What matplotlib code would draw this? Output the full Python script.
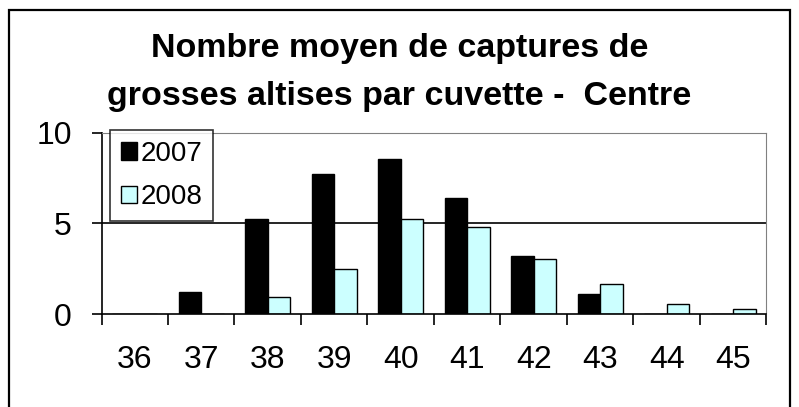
import matplotlib
matplotlib.use("Agg")
import matplotlib.pyplot as plt
import numpy as np
from matplotlib.patches import Rectangle

categories = ["36", "37", "38", "39", "40", "41", "42", "43", "44", "45"]
series_2007 = [0, 1.2, 5.25, 7.7, 8.55, 6.4, 3.2, 1.1, 0, 0]
series_2008 = [0, 0, 0.95, 2.5, 5.25, 4.8, 3.05, 1.65, 0.55, 0.3]
yticks = [0, 5, 10]

plt.rcParams['font.family'] = ['Liberation Sans', 'DejaVu Sans']

W, H = 799, 407
fig = plt.figure(figsize=(W / 100, H / 100), dpi=100)
ax = fig.add_axes([101.5 / W, 1 - 314 / H, (766.5 - 101.5) / W, (314 - 132.7) / H])

x = np.arange(len(categories))
bw = 0.34
ax.bar(x - bw / 2, series_2007, bw, color="black", edgecolor="black", linewidth=1, label="2007", zorder=3)
ax.bar(x + bw / 2, series_2008, bw, color="#CCFFFF", edgecolor="black", linewidth=1, label="2008", zorder=3)

ax.set_xlim(-0.5, len(categories) - 0.5)
ax.set_ylim(0, 10)
ax.set_yticks(yticks)
ax.set_yticklabels([str(v) for v in yticks], fontsize=23)
ax.set_xticks(np.arange(len(categories) + 1) - 0.5)
ax.set_xticklabels([])
ax.set_xticks(x, minor=True)
ax.set_xticklabels(categories, minor=True, fontsize=23)
ax.tick_params(axis="x", which="major", direction="out", length=8, width=1.2)
ax.tick_params(axis="x", which="minor", length=0, pad=22)
ax.tick_params(axis="y", direction="out", length=7.5, width=1.2, pad=14)

ax.axhline(5, color="black", linewidth=1.2, zorder=1)
ax.spines["top"].set_color("#808080")
ax.spines["right"].set_color("#808080")
ax.spines["left"].set_linewidth(1.2)
ax.spines["bottom"].set_linewidth(1.2)
ax.spines["bottom"].set_zorder(4)

leg = ax.legend(loc="upper left", bbox_to_anchor=(8.5 / 665, 1.013), fontsize=20,
                frameon=True, fancybox=False, edgecolor="black", handlelength=0.6,
                handleheight=0.6, handletextpad=0.12, labelspacing=0.62,
                borderpad=0.38, borderaxespad=0)
leg.get_frame().set_linewidth(1.2)

fig.text(0.5, 1 - 48 / H, "Nombre moyen de captures de", ha="center", va="center",
         fontsize=24.5, fontweight="bold")
fig.text(0.5, 1 - 96 / H, "grosses altises par cuvette -  Centre", ha="center", va="center",
         fontsize=24.5, fontweight="bold")

fig.patches.append(Rectangle((9 / W, -0.05), (790 - 9) / W, 1.05 - 10 / H,
                             transform=fig.transFigure, fill=False, edgecolor="black",
                             linewidth=1.6))

fig.savefig("out.png", dpi=100)
